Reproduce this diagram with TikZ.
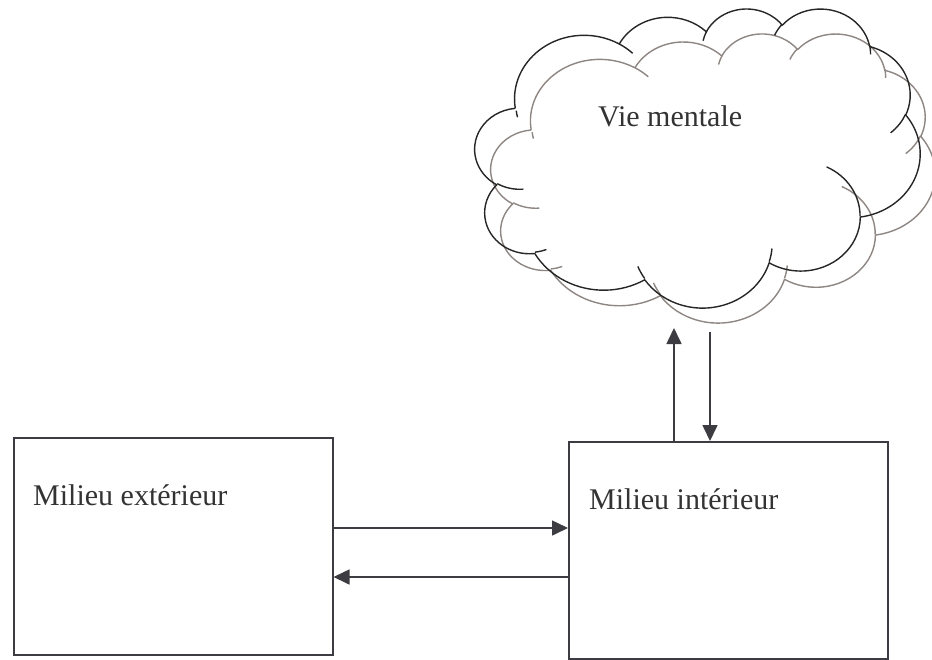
\documentclass[tikz,border=0pt]{standalone}
\usepackage{fontspec}
\setmainfont{Liberation Serif}
\usetikzlibrary{arrows.meta}
\definecolor{ink}{HTML}{3C3C42}
\definecolor{txt}{HTML}{333333}
\definecolor{cloudgray}{HTML}{8E8682}
\newcommand{\cloudoutline}{%
 (39.00,143.70)
 arc[start angle=-187.75, delta angle=128.10, x radius=67.53, y radius=91.90]
 arc[start angle=-152.02, delta angle=106.60, x radius=53.33, y radius=72.67]
 arc[start angle=-153.49, delta angle=116.16, x radius=43.65, y radius=59.45]
 arc[start angle=-139.71, delta angle=129.50, x radius=48.57, y radius=65.95]
 arc[start angle=-74.77, delta angle=97.98, x radius=53.33, y radius=72.73]
 arc[start angle=-37.53, delta angle=119.39, x radius=67.75, y radius=92.20]
 arc[start angle=0.46, delta angle=121.52, x radius=57.85, y radius=78.67]
 arc[start angle=16.84, delta angle=129.41, x radius=67.52, y radius=92.15]
 arc[start angle=58.98, delta angle=91.22, x radius=77.20, y radius=105.43]
 arc[start angle=83.31, delta angle=139.79, x radius=43.60, y radius=59.18]
 arc[start angle=120.35, delta angle=143.76, x radius=43.45, y radius=59.45] -- cycle}
\newcommand{\cloudinner}{%
 (46.93,261.77) arc[start angle=85.55, delta angle=34.80, x radius=43.45, y radius=59.45]
 (69.28,348.99) arc[start angle=68.24, delta angle=15.07, x radius=43.60, y radius=59.18]
 (164.78,390.90) arc[start angle=146.25, delta angle=12.22, x radius=67.52, y radius=92.15]
 (288.27,347.51) arc[start angle=4.74, delta angle=12.10, x radius=67.52, y radius=92.15]
 (341.29,229.54) arc[start angle=-64.03, delta angle=64.49, x radius=57.85, y radius=78.67]
 (417.98,153.54) arc[start angle=23.21, delta angle=26.43, x radius=53.33, y radius=72.73]
 (383.24,54.26) arc[start angle=-10.21, delta angle=11.03, x radius=48.57, y radius=65.95]
 (290.78,39.52) arc[start angle=-156.29, delta angle=16.58, x radius=48.57, y radius=65.95]
 (221.41,47.20) arc[start angle=-167.73, delta angle=14.24, x radius=43.65, y radius=59.45]
 (140.00,51.92) arc[start angle=-59.65, delta angle=13.95, x radius=67.53, y radius=91.90]
 (41.27,157.89) arc[start angle=166.61, delta angle=6.02, x radius=67.53, y radius=91.90]}
\begin{document}
\begin{tikzpicture}[x=1pt,y=-1pt,
  box/.style={draw=ink,line width=1.5pt,rectangle,anchor=north west,inner sep=0pt},
  lbl/.style={text=txt,font=\fontsize{30}{34}\selectfont,inner sep=0pt,anchor=base west},
  cloudline/.style={line width=1.4pt,line join=round},
  arr/.style={draw=ink,line width=1.6pt,-{Triangle[length=16pt,width=15pt]}}]
\useasboundingbox (0,0) rectangle (932,659);
% gray cloud (behind)
\coordinate (cloudGorigin) at (491,33);
\begin{scope}[shift={(cloudGorigin)}]
 \begin{scope}[x={(1.02778pt,0pt)},y={(0pt,-0.66898pt)}]
  \draw[cloudline,draw=cloudgray] \cloudoutline;
  \draw[cloudline,draw=cloudgray] \cloudinner;
 \end{scope}
\end{scope}
% black cloud
\coordinate (cloudBorigin) at (475,8);
\begin{scope}[shift={(cloudBorigin)}]
 \begin{scope}[x={(1.03009pt,0pt)},y={(0pt,-0.69213pt)}]
  \draw[cloudline,draw=black!85] \cloudoutline;
  \draw[cloudline,draw=black!85] \cloudinner;
 \end{scope}
\end{scope}
\node[lbl] (vie) at (598,126) {Vie mentale};
% boxes
\node[box,minimum width=319pt,minimum height=217pt] (L) at (13,437) {};
\node[box,minimum width=319pt,minimum height=217pt] (R) at (568,441) {};
\node[lbl] (ltxt) at (33,505) {Milieu extérieur};
\node[lbl] (rtxt) at (589,509) {Milieu intérieur};
% arrows
\coordinate (upend) at (674,328);
\coordinate (downstart) at (710,332);
\draw[arr] (L.east |- 0,528) -- (R.west |- 0,528);
\draw[arr] (R.west |- 0,577) -- (L.east |- 0,577);
\draw[arr] (R.north -| upend) -- (upend);
\draw[arr] (downstart) -- (R.north -| downstart);
\end{tikzpicture}
\end{document}
